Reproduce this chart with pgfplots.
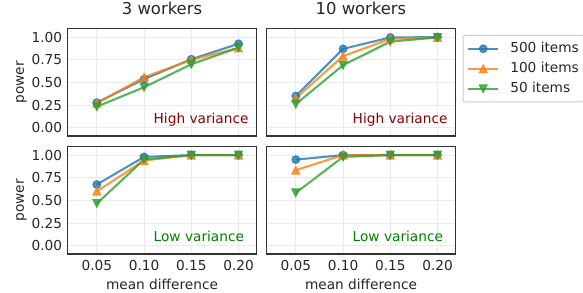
\documentclass[border=0pt]{standalone}
\usepackage{fontspec}
\setmainfont{DejaVu Sans}
\usepackage{pgfplots}
\pgfplotsset{compat=1.18}
\definecolor{c1}{HTML}{1F77B4}
\definecolor{c2}{HTML}{FF7F0E}
\definecolor{c3}{HTML}{2CA02C}
\definecolor{txt}{HTML}{262626}
\definecolor{frame}{HTML}{333333}
\definecolor{gridc}{HTML}{EBEBEB}
\definecolor{legc}{HTML}{CCCCCC}
\definecolor{hired}{HTML}{8B0000}
\definecolor{logreen}{HTML}{008000}
\pgfdeclareplotmark{utri}{%
  \pgfpathmoveto{\pgfqpoint{0pt}{\pgfplotmarksize}}%
  \pgfpathlineto{\pgfqpoint{-\pgfplotmarksize}{-\pgfplotmarksize}}%
  \pgfpathlineto{\pgfqpoint{\pgfplotmarksize}{-\pgfplotmarksize}}%
  \pgfpathclose\pgfusepathqfillstroke}
\pgfdeclareplotmark{dtri}{%
  \pgfpathmoveto{\pgfqpoint{0pt}{-\pgfplotmarksize}}%
  \pgfpathlineto{\pgfqpoint{-\pgfplotmarksize}{\pgfplotmarksize}}%
  \pgfpathlineto{\pgfqpoint{\pgfplotmarksize}{\pgfplotmarksize}}%
  \pgfpathclose\pgfusepathqfillstroke}
\newcommand{\basefont}{\fontsize{13.7bp}{16bp}\selectfont}
\tikzset{
  hinote/.style={anchor=base west, inner sep=0pt, font=\basefont, text=hired},
  lonote/.style={anchor=base west, inner sep=0pt, font=\basefont, text=logreen},
}
\pgfplotsset{
  panel/.style={
    anchor=south west, width=189bp, height=107.5bp, scale only axis,
    xmin=0.019, xmax=0.219, ymin=-0.092, ymax=1.095,
    xtick={0.05,0.10,0.15,0.20}, ytick={0,0.25,0.5,0.75,1},
    scaled ticks=false,
    /pgf/number format/fixed, /pgf/number format/fixed zerofill,
    /pgf/number format/precision=2, /pgf/number format/assume math mode=true,
    grid=major, major grid style={gridc, line width=1bp},
    axis line style={draw=frame, line width=1.25bp},
    major tick length=0pt,
    tick label style={font=\basefont, text=txt},
    xticklabel style={anchor=base, inner sep=0pt, yshift=-16bp},
    yticklabel style={anchor=east, inner sep=0pt, xshift=-5.2bp},
    title style={at={(0.5,1)}, anchor=base, yshift=8.5bp, inner sep=0pt,
      font=\fontsize{16.4bp}{19bp}\selectfont, text=txt},
    xlabel style={at={(axis description cs:0.5,0)}, anchor=base, yshift=-35bp,
      inner sep=0pt, font=\basefont, text=txt},
    ylabel style={at={(axis description cs:-0.231,0.5)}, anchor=base,
      inner sep=0pt, font=\basefont, text=txt},
    legend image code/.code={\draw[mark repeat=2,mark phase=2,##1]
      plot coordinates {(0bp,0bp) (15bp,0bp) (30bp,0bp)};},
  },
  s500/.style={color=c1, line width=2.05bp, mark=*, mark size=3.9bp,
    mark options={line width=1bp, solid}, opacity=0.8},
  s100/.style={color=c2, line width=2.05bp, mark=utri, mark size=3.9bp,
    mark options={line width=1bp, solid}, opacity=0.8},
  s50/.style={color=c3, line width=2.05bp, mark=dtri, mark size=3.9bp,
    mark options={line width=1bp, solid}, opacity=0.8},
}
\begin{document}
\begin{tikzpicture}
\useasboundingbox (0,0) rectangle (583bp,293bp);
% top left: 3 workers, high variance
\begin{axis}[panel, at={(67.5bp,157bp)}, title={3 workers}, ylabel={power}, xticklabels={}]
\addplot[s500] coordinates {(0.05,0.277) (0.10,0.535) (0.15,0.756) (0.20,0.926)};
\addplot[s100] coordinates {(0.05,0.270) (0.10,0.557) (0.15,0.749) (0.20,0.880)};
\addplot[s50] coordinates {(0.05,0.232) (0.10,0.446) (0.15,0.700) (0.20,0.884)};
\node[hinote] at (rel axis cs:0.455,0.118) {High variance};
\end{axis}
% top right: 10 workers, high variance
\begin{axis}[panel, at={(266.5bp,157bp)}, title={10 workers}, xticklabels={}, yticklabels={},
  legend cell align=left,
  legend style={at={(1,1)}, anchor=north west, xshift=7.2bp, yshift=-6.5bp,
    draw=legc, line width=1bp, rounded corners=2bp, fill=white,
    font=\basefont, text=txt, inner xsep=4bp, inner ysep=6.3bp,
    row sep=6.1bp, column sep=10.2bp,
    nodes={inner xsep=0.85bp, inner ysep=0pt, text height=10.4bp, text depth=3.5bp}}]
\addplot[s500] coordinates {(0.05,0.350) (0.10,0.870) (0.15,0.996) (0.20,1.000)};
\addlegendentry{500 items}
\addplot[s100] coordinates {(0.05,0.325) (0.10,0.790) (0.15,0.980) (0.20,0.996)};
\addlegendentry{100 items}
\addplot[s50] coordinates {(0.05,0.260) (0.10,0.690) (0.15,0.950) (0.20,0.996)};
\addlegendentry{50 items}
\node[hinote] at (rel axis cs:0.455,0.118) {High variance};
\end{axis}
% bottom left: 3 workers, low variance
\begin{axis}[panel, at={(67.5bp,39bp)}, ylabel={power}, xlabel={mean difference}]
\addplot[s500] coordinates {(0.05,0.675) (0.10,0.980) (0.15,1.000) (0.20,1.000)};
\addplot[s100] coordinates {(0.05,0.600) (0.10,0.940) (0.15,1.000) (0.20,1.000)};
\addplot[s50] coordinates {(0.05,0.465) (0.10,0.952) (0.15,1.000) (0.20,1.000)};
\node[lonote] at (rel axis cs:0.455,0.118) {Low variance};
\end{axis}
% bottom right: 10 workers, low variance
\begin{axis}[panel, at={(266.5bp,39bp)}, xlabel={mean difference}, yticklabels={}]
\addplot[s500] coordinates {(0.05,0.950) (0.10,1.000) (0.15,1.000) (0.20,1.000)};
\addplot[s100] coordinates {(0.05,0.834) (0.10,1.000) (0.15,1.000) (0.20,1.000)};
\addplot[s50] coordinates {(0.05,0.583) (0.10,0.980) (0.15,1.000) (0.20,1.000)};
\node[lonote] at (rel axis cs:0.455,0.118) {Low variance};
\end{axis}
\end{tikzpicture}
\end{document}
